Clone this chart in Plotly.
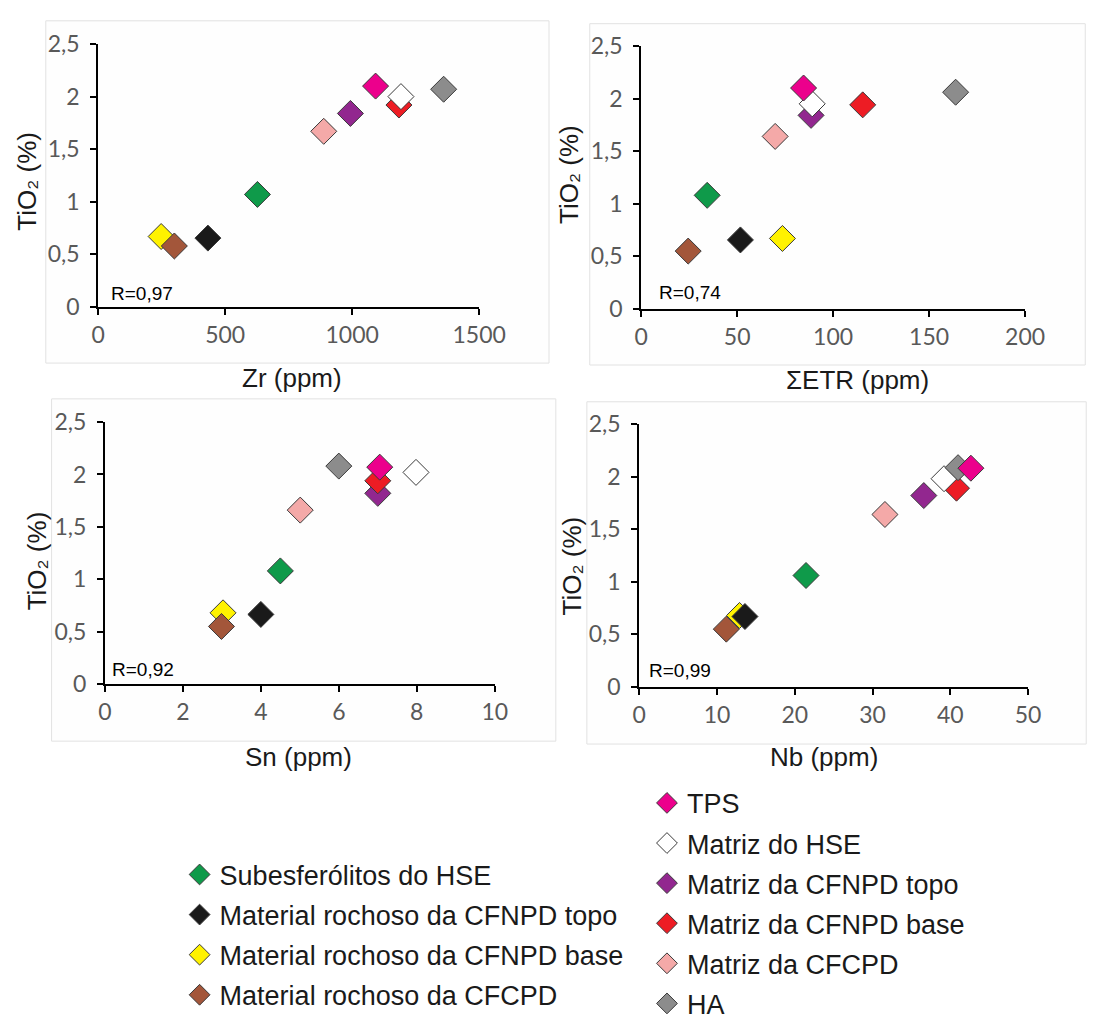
import plotly.graph_objects as go

# ---------------- data ----------------
series = ["Material rochoso da CFNPD base", "Material rochoso da CFCPD",
          "Material rochoso da CFNPD topo", "Subesferólitos do HSE",
          "Matriz da CFCPD", "Matriz da CFNPD topo", "Matriz da CFNPD base",
          "Matriz do HSE", "HA", "TPS"]
zr  = [248, 300, 432, 627, 888, 993, 1184, 1192, 1360, 1092]
etr = [73.6, 24.5, 51.7, 34.4, 69.8, 88.5, 115.4, 89.1, 163.8, 84.6]
sn  = [3.03, 2.99, 4.0, 4.5, 5.01, 7.0, 7.0, 7.98, 6.0, 7.05]
nb  = [12.9, 11.2, 13.6, 21.45, 31.6, 36.6, 40.8, 39.2, 41.0, 42.65]
tio2_zr  = [0.67, 0.58, 0.655, 1.07, 1.67, 1.84, 1.92, 2.00, 2.07, 2.10]
tio2_etr = [0.67, 0.55, 0.656, 1.08, 1.64, 1.84, 1.94, 1.95, 2.06, 2.10]
tio2_sn  = [0.68, 0.55, 0.665, 1.08, 1.66, 1.82, 1.94, 2.02, 2.08, 2.07]
tio2_nb  = [0.68, 0.55, 0.67, 1.06, 1.64, 1.82, 1.89, 1.98, 2.085, 2.08]
r_values = ["R=0,97", "R=0,74", "R=0,92", "R=0,99"]
x_titles = ["Zr (ppm)", "ΣETR (ppm)", "Sn (ppm)", "Nb (ppm)"]
y_title = "TiO₂ (%)"
y_ticks = [0, 0.5, 1, 1.5, 2, 2.5]
y_ticktext = ["0", "0,5", "1", "1,5", "2", "2,5"]

# ---------------- styles ----------------
colors = ["#fff200", "#a3563a", "#1a1a1a", "#0f9a4a", "#f4a9a8",
          "#92278f", "#ed1c24", "#ffffff", "#8c8c8c", "#ec008c"]
legend_of = ["legend2", "legend2", "legend2", "legend2",
             "legend", "legend", "legend", "legend", "legend", "legend"]
rank_of = [3, 4, 2, 1, 5, 3, 4, 2, 6, 1]

W, H = 1120, 1028
def px(x): return x / W
def py(y): return 1 - y / H

panels = [
    dict(x=zr,  y=tio2_zr,  xd=(94, 487),  yd=(30, 302),  xr=1500, dt=500,
         box=(40, 6, 559, 360),   xt=(294, 375), yt=(21, 172),  rl=(105, 288)),
    dict(x=etr, y=tio2_etr, xd=(654, 1050), yd=(32, 304), xr=200, dt=50,
         box=(601, 9, 1112, 362), xt=(877, 377), yt=(579, 165), rl=(670, 287)),
    dict(x=sn,  y=tio2_sn,  xd=(101, 503), yd=(421, 692), xr=10, dt=2,
         box=(46, 397, 566, 751), xt=(301, 767), yt=(31, 565), rl=(106, 677)),
    dict(x=nb,  y=tio2_nb,  xd=(652, 1053), yd=(423, 695), xr=50, dt=10,
         box=(598, 400, 1113, 754), xt=(843, 767), yt=(583, 570), rl=(660, 678)),
]

fig = go.Figure()
TXT = "Liberation Sans, Arial, sans-serif"
TICK = "Lato, Open Sans, sans-serif"

shapes, annotations = [], []
for k, p in enumerate(panels):
    ax = "" if k == 0 else str(k + 1)
    for i, name in enumerate(series):
        fig.add_trace(go.Scatter(
            x=[p["x"][i]], y=[p["y"][i]], mode="markers", name=name,
            xaxis="x" + ax, yaxis="y" + ax,
            legendgroup=name, showlegend=(k == 0), legend=legend_of[i],
            legendrank=rank_of[i],
            marker=dict(symbol="diamond", size=20, color=colors[i],
                        line=dict(color="#3a3a3a", width=1)),
            hoverinfo="x+y+name"))
    common = dict(showline=True, linecolor="black", linewidth=2, ticks="outside",
                  ticklen=6, tickwidth=2, tickcolor="black", showgrid=False,
                  zeroline=False, tickfont=dict(family=TICK, size=23, color="#595959"),
                  fixedrange=True)
    fig.layout["xaxis" + ax] = dict(domain=[px(p["xd"][0]), px(p["xd"][1])],
                                    range=[0, p["xr"]], dtick=p["dt"], tick0=0,
                                    anchor="y" + ax, ticklabelstandoff=0, **common)
    fig.layout["yaxis" + ax] = dict(domain=[py(p["yd"][1]), py(p["yd"][0])],
                                    range=[0, 2.5], tickvals=y_ticks, ticktext=y_ticktext,
                                    anchor="x" + ax, ticklabelstandoff=6, **common)
    b = p["box"]
    shapes.append(dict(type="rect", xref="paper", yref="paper", layer="below",
                       x0=px(b[0]), x1=px(b[2]), y0=py(b[3]), y1=py(b[1]),
                       line=dict(color="#e2e2e2", width=1), fillcolor="#fefefe"))
    annotations.append(dict(text=x_titles[k], xref="paper", yref="paper",
                            x=px(p["xt"][0]), y=py(p["xt"][1]), showarrow=False,
                            xanchor="center", yanchor="middle",
                            font=dict(family=TXT, size=26, color="#1a1a1a")))
    annotations.append(dict(text=y_title, xref="paper", yref="paper",
                            x=px(p["yt"][0]), y=py(p["yt"][1]), showarrow=False,
                            textangle=-90, xanchor="center", yanchor="middle",
                            font=dict(family=TXT, size=26, color="#1a1a1a")))
    annotations.append(dict(text=r_values[k], xref="paper", yref="paper",
                            x=px(p["rl"][0]), y=py(p["rl"][1]), showarrow=False,
                            xanchor="left", yanchor="middle",
                            font=dict(family=TXT, size=19, color="black")))

leg_common = dict(font=dict(family=TXT, size=27, color="#1a1a1a"),
                  bgcolor="rgba(0,0,0,0)", itemwidth=30, tracegroupgap=2,
                  xanchor="left", yanchor="top", itemclick=False, itemdoubleclick=False)
fig.update_layout(
    width=W, height=H, margin=dict(l=0, r=0, t=0, b=0),
    paper_bgcolor="white", plot_bgcolor="rgba(0,0,0,0)",
    shapes=shapes, annotations=annotations,
    legend=dict(x=px(660), y=py(790), **leg_common),
    legend2=dict(x=px(178), y=py(864), **leg_common),
)
fig.write_html("out.html")
